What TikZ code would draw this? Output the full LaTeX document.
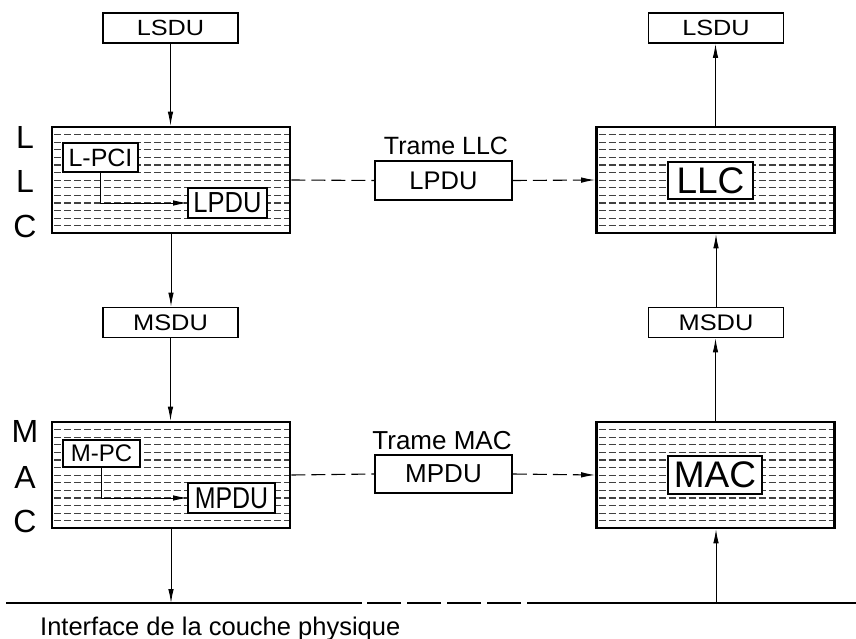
\documentclass[tikz,border=0pt]{standalone}
\usepackage{fontspec}
\setmainfont{Liberation Sans}
\usetikzlibrary{arrows.meta}
\newcommand{\fs}[1]{\fontsize{#1}{#1}\selectfont}
\begin{document}
\begin{tikzpicture}[x=1pt,y=-1pt,
  layer/.style={draw,line width=2.6pt,minimum width=238pt,minimum height=106pt,inner sep=0pt,
    path picture={\foreach \k in {1,...,13}{
      \draw[gray!50!black,line width=1.1pt,dash pattern=on 7pt off 3pt]
        ([yshift=-\k*7.6pt,xshift=2pt]path picture bounding box.north west) --
        ([yshift=-\k*7.6pt]path picture bounding box.north east);}}},
  sdu/.style={draw,line width=1.8pt,fill=white,minimum width=135pt,minimum height=30pt,inner sep=0pt},
  inbox/.style={draw,line width=1.8pt,fill=white,inner sep=0pt},
  arr/.style={line width=0.9pt,-{Latex[length=14pt,width=5.5pt]}},
  darr/.style={line width=1.1pt,dash pattern=on 14pt off 6pt},
  side/.style={font=\fs{32},inner sep=0pt},
  lbl/.style={inner sep=0pt}
]
\useasboundingbox (0,0) rectangle (856,639);

% top SDUs
\node[sdu] (lsdu1) at (170.5,28) {\fs{22}\scalebox{1.15}[1]{LSDU}};
\node[sdu] (lsdu2) at (716,28) {\fs{22}\scalebox{1.15}[1]{LSDU}};

% LLC layers
\node[layer] (llc1) at (171,180) {};
\node[layer] (llc2) at (715.5,180) {};
\node[inbox,minimum width=75pt,minimum height=29pt] (lpci) at (100.5,157.5) {\fs{25}L-PCI};
\node[inbox,minimum width=79pt,minimum height=30pt] (lpdui) at (227.5,203) {\fs{29}\scalebox{0.88}[1]{LPDU}};
\node[inbox,minimum width=85pt,minimum height=37pt] (llcin) at (710.5,180.5) {\fs{37}LLC};
\node[inbox,minimum width=137pt,minimum height=39pt] (lpdum) at (443.5,180.5) {\fs{25.5}LPDU};
\node[lbl,font=\fs{25}] (tllc) at (446,146) {Trame LLC};

% side letters
\node[side] (s1) at (25,137) {L};
\node[side] (s2) at (25,181) {L};
\node[side] (s3) at (25,226) {C};
\node[side] (s4) at (25,431) {M};
\node[side] (s5) at (25,477) {A};
\node[side] (s6) at (25,521) {C};

% MSDUs
\node[sdu] (msdu1) at (170.5,322.5) {\fs{22.5}\scalebox{1.13}[1]{MSDU}};
\node[sdu] (msdu2) at (716,322.5) {\fs{22.5}\scalebox{1.13}[1]{MSDU}};

% MAC layers
\node[layer] (mac1) at (171,475) {};
\node[layer] (mac2) at (715.5,475) {};
\node[inbox,minimum width=77pt,minimum height=27pt] (mpc) at (101.5,453.5) {\fs{24}M-PC};
\node[inbox,minimum width=87pt,minimum height=30pt] (mpdui) at (231.5,498) {\fs{30}\scalebox{0.83}[1]{MPDU}};
\node[inbox,minimum width=94pt,minimum height=38pt] (macin) at (715,475) {\fs{37}MAC};
\node[inbox,minimum width=137pt,minimum height=38pt] (mpdum) at (443.5,474) {\fs{26}MPDU};
\node[lbl,font=\fs{26}] (tmac) at (442,441) {Trame MAC};

% physical interface line
\coordinate (p0) at (6,603);
\coordinate (p1) at (362,603);
\coordinate (p2) at (527,603);
\coordinate (p3) at (856,603);
\coordinate (pl) at (171,603);
\coordinate (pr) at (716,603);
\draw[line width=2.4pt] (p0) -- (p1);
\draw[line width=2.4pt,dash pattern=on 34pt off 6pt,dash phase=-5pt] (p1) -- (p2);
\draw[line width=2.4pt] (p2) -- (p3);
\node[lbl,anchor=base west,font=\fs{25.5}] (phy) at (40,635) {Interface de la couche physique};

% vertical arrows left (down)
\draw[arr] (lsdu1.south) -- (lsdu1.south |- llc1.north);
\draw[arr] (llc1.south) -- (llc1.south |- msdu1.north);
\draw[arr] (msdu1.south) -- (msdu1.south |- mac1.north);
\draw[arr] (mac1.south) -- (pl);
% vertical arrows right (up)
\draw[arr] (pr) -- (pr |- mac2.south);
\draw[arr] (mac2.north) -- (mac2.north |- msdu2.south);
\draw[arr] (msdu2.north) -- (msdu2.north |- llc2.south);
\draw[arr] (llc2.north) -- (llc2.north |- lsdu2.south);

% inner arrows
\draw[arr] (lpci.south) |- (lpdui.west);
\draw[arr] (mpc.south) |- (mpdui.west);

% dashed frame connectors
\draw[darr] (llc1.east) -- (lpdum.west);
\draw[darr,-{Latex[length=14pt,width=5.5pt]}] (lpdum.east) -- (llc2.west);
\draw[darr] (mac1.east) -- (mpdum.west);
\draw[darr,-{Latex[length=14pt,width=5.5pt]}] (mpdum.east) -- (mac2.west);
\end{tikzpicture}
\end{document}
